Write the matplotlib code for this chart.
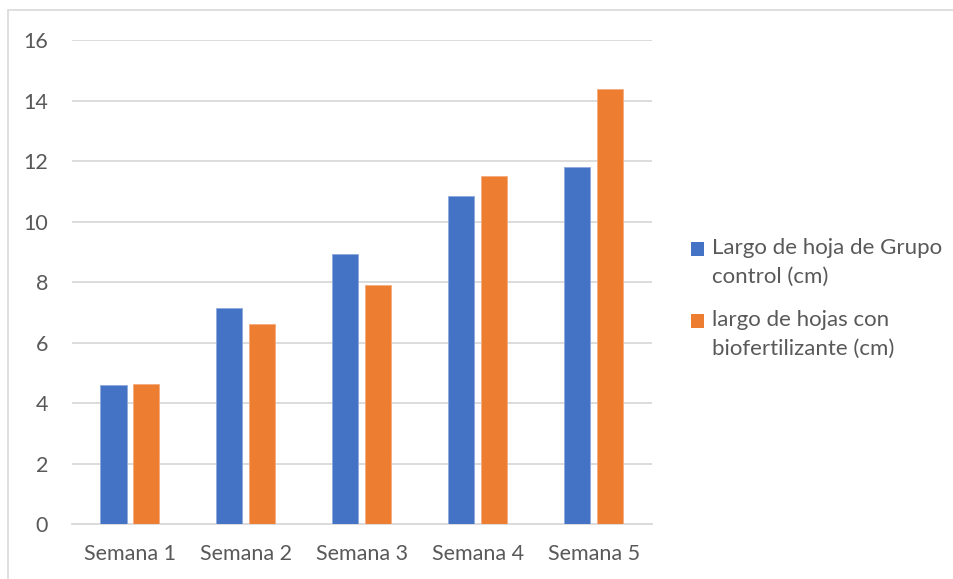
import matplotlib.pyplot as plt
import matplotlib.patches as patches
from matplotlib.container import BarContainer
from matplotlib.legend_handler import HandlerPatch
import numpy as np

plt.rcParams['font.family'] = ['Lato', 'DejaVu Sans']

semanas = ['Semana 1', 'Semana 2', 'Semana 3', 'Semana 4', 'Semana 5']
control = [4.62, 7.16, 8.92, 10.84, 11.79]
biofert = [4.63, 6.61, 7.92, 11.50, 14.39]
etiquetas = ['Largo de hoja de Grupo\ncontrol (cm)',
             'largo de hojas con\nbiofertilizante (cm)']

azul = '#4472C4'
naranja = '#ED7D31'
gris_texto = '#595959'
gris_linea = '#D9D9D9'


def cuadro_arriba(legend, orig_handle, xdescent, ydescent, width, height, fontsize):
    # el cuadrito de la leyenda va a la altura de la primera linea
    return patches.Rectangle((-xdescent, -ydescent + 10), width, height)


def copiar_color(legend_handle, orig_handle):
    legend_handle.update_from(orig_handle[0])
    legend_handle.set_edgecolor('none')


fig = plt.figure(figsize=(9.54, 5.79), dpi=100)
ax = fig.add_axes([0.0753, 0.0943, 0.6077, 0.8367])

x = np.arange(len(semanas))
ancho = 0.225
b1 = ax.bar(x - 0.141, control, ancho, color=azul, edgecolor='#8fa9dc',
            linewidth=0.6, label=etiquetas[0], zorder=3)
b2 = ax.bar(x + 0.141, biofert, ancho, color=naranja, edgecolor='#f4ac7f',
            linewidth=0.6, label=etiquetas[1], zorder=3)

ax.set_xlim(-0.5, len(semanas) - 0.5)
ax.set_ylim(0, 16)
ax.set_yticks(range(0, 17, 2))
ax.set_xticks(x)
ax.set_xticklabels(semanas)
ax.grid(axis='y', color=gris_linea, linewidth=1.3, zorder=0)
for s in ['top', 'right', 'left']:
    ax.spines[s].set_visible(False)
ax.spines['bottom'].set_color(gris_linea)
ax.spines['bottom'].set_linewidth(1.3)
ax.tick_params(axis='both', length=0, colors=gris_texto, labelsize=15.5)
ax.tick_params(axis='y', pad=17)
ax.tick_params(axis='x', pad=14)

manejador = HandlerPatch(patch_func=cuadro_arriba, update_func=copiar_color)
leg = fig.legend(handles=[b1, b2], labels=etiquetas, loc='center left',
                 bbox_to_anchor=(0.703, 0.484), frameon=False, fontsize=16,
                 labelcolor=gris_texto, handlelength=0.6, handleheight=0.6,
                 handletextpad=0.35, labelspacing=1.05,
                 handler_map={BarContainer: manejador})
for t in leg.get_texts():
    t.set_linespacing(1.55)

# marco exterior del gráfico
fig.patches.append(patches.Rectangle((8 / 954, -0.1), 1.5, 1 - 10 / 579 + 0.1,
                                     transform=fig.transFigure, fill=False,
                                     edgecolor=gris_linea, linewidth=1.2))

fig.savefig('out.png', dpi=100)
